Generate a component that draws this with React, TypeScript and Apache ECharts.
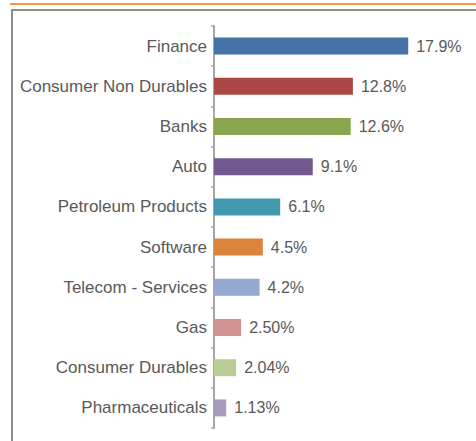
import React, { useEffect, useRef } from "react";
import * as echarts from "echarts";

const categories = [
  "Finance",
  "Consumer Non Durables",
  "Banks",
  "Auto",
  "Petroleum Products",
  "Software",
  "Telecom - Services",
  "Gas",
  "Consumer Durables",
  "Pharmaceuticals",
];
const values = [17.9, 12.8, 12.6, 9.1, 6.1, 4.5, 4.2, 2.5, 2.04, 1.13];
const valueLabels = ["17.9%", "12.8%", "12.6%", "9.1%", "6.1%", "4.5%", "4.2%", "2.50%", "2.04%", "1.13%"];
const colors = [
  "#4572A7",
  "#AA4643",
  "#89A54E",
  "#71588F",
  "#4198AF",
  "#DB843D",
  "#93A9CF",
  "#D19392",
  "#B9CD96",
  "#A99BBD",
];

export default function App() {
  const ref = useRef<HTMLDivElement>(null);
  useEffect(() => {
    if (!ref.current) return;
    const chart = echarts.init(ref.current, undefined, { renderer: "svg" });
    const font = "'Liberation Sans', Arial, sans-serif";
    chart.setOption({
      animation: false,
      graphic: [
        {
          type: "line",
          shape: { x1: 10, y1: 4, x2: 476, y2: 4 },
          style: { stroke: "#F79646", lineWidth: 2 },
          silent: true,
        },
        {
          type: "rect",
          shape: { x: 12, y: 10, width: 470, height: 440 },
          style: { fill: "none", stroke: "#8E8E8E", lineWidth: 2 },
          silent: true,
        },
      ],
      grid: { left: 214, top: 26, width: 217, height: 402, containLabel: false },
      xAxis: {
        type: "value",
        min: 0,
        max: 20,
        show: false,
      },
      yAxis: {
        type: "category",
        data: categories,
        inverse: true,
        axisLine: { show: true, lineStyle: { color: "#A6A6A6", width: 2 } },
        axisTick: { show: true, length: 3, lineStyle: { color: "#A6A6A6", width: 1.5 } },
        axisLabel: { color: "#595959", fontSize: 17, fontFamily: font, margin: 7 },
        splitLine: { show: false },
      },
      series: [
        {
          type: "bar",
          barWidth: 17,
          data: values.map((v, i) => ({ value: v, itemStyle: { color: colors[i] } })),
          label: {
            show: true,
            position: "right",
            distance: 8,
            color: "#595959",
            fontSize: 16,
            fontFamily: font,
            formatter: (p: any) => valueLabels[p.dataIndex],
          },
        },
      ],
    });
    return () => chart.dispose();
  }, []);
  return (
    <div
      ref={ref}
      style={{ position: "fixed", left: 0, top: 0, width: 476, height: 441, background: "#fff" }}
    />
  );
}
